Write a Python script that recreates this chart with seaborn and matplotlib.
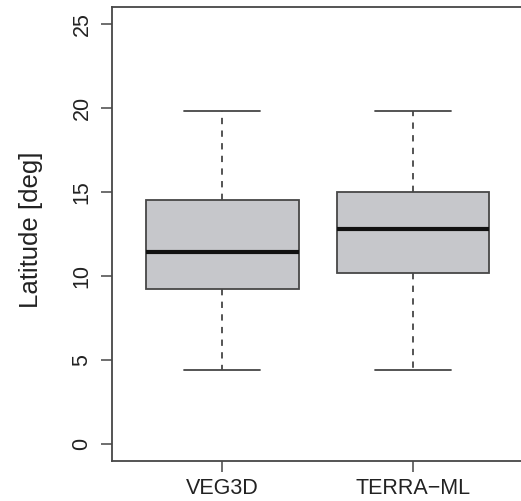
import matplotlib.pyplot as plt
import seaborn as sns
import pandas as pd

# five-number summaries (min, Q1, median, Q3, max)
models = ['VEG3D', 'TERRA\u2212ML']
veg3d_lat = [4.4, 9.25, 11.45, 14.55, 19.8]
terra_lat = [4.4, 10.15, 12.8, 15.0, 19.8]
yticks = [0, 5, 10, 15, 20, 25]

df = pd.DataFrame({
    'model': [models[0]] * len(veg3d_lat) + [models[1]] * len(terra_lat),
    'lat': veg3d_lat + terra_lat,
})

sns.set_style('ticks')
plt.rcParams['font.family'] = ['Liberation Sans', 'DejaVu Sans']

fig = plt.figure(figsize=(5.21, 5.01), dpi=100)
ax = fig.add_axes([0.215, 0.08, 0.789, 0.906])

edge = '#474747'
sns.boxplot(data=df, x='model', y='lat', ax=ax, order=models,
            color='#c6c7cb', saturation=1, width=0.8, linecolor=edge,
            linewidth=1.3, whis=1.5, showfliers=False,
            medianprops=dict(color='#111111', linewidth=3),
            whiskerprops=dict(linestyle=(0, (3.5, 3.5))))

ax.set_xlim(-0.58, 1.58)
ax.set_ylim(-1, 26)
ax.set_yticks(yticks)
ax.set_yticklabels([str(t) for t in yticks], rotation=90, va='center')
ax.set_xlabel('')
ax.set_ylabel('Latitude [deg]', fontsize=18.5, color='#222222')
ax.yaxis.set_label_coords(-0.168, 0.509)
ax.tick_params(axis='both', labelsize=15.5, length=8, width=1.1, color=edge, labelcolor='#222222')
ax.tick_params(axis='y', pad=6)
ax.tick_params(axis='x', pad=4.5)
for s in ax.spines.values():
    s.set_color(edge)
    s.set_linewidth(1.3)
    s.set_visible(True)

plt.savefig('out.png', dpi=100)
